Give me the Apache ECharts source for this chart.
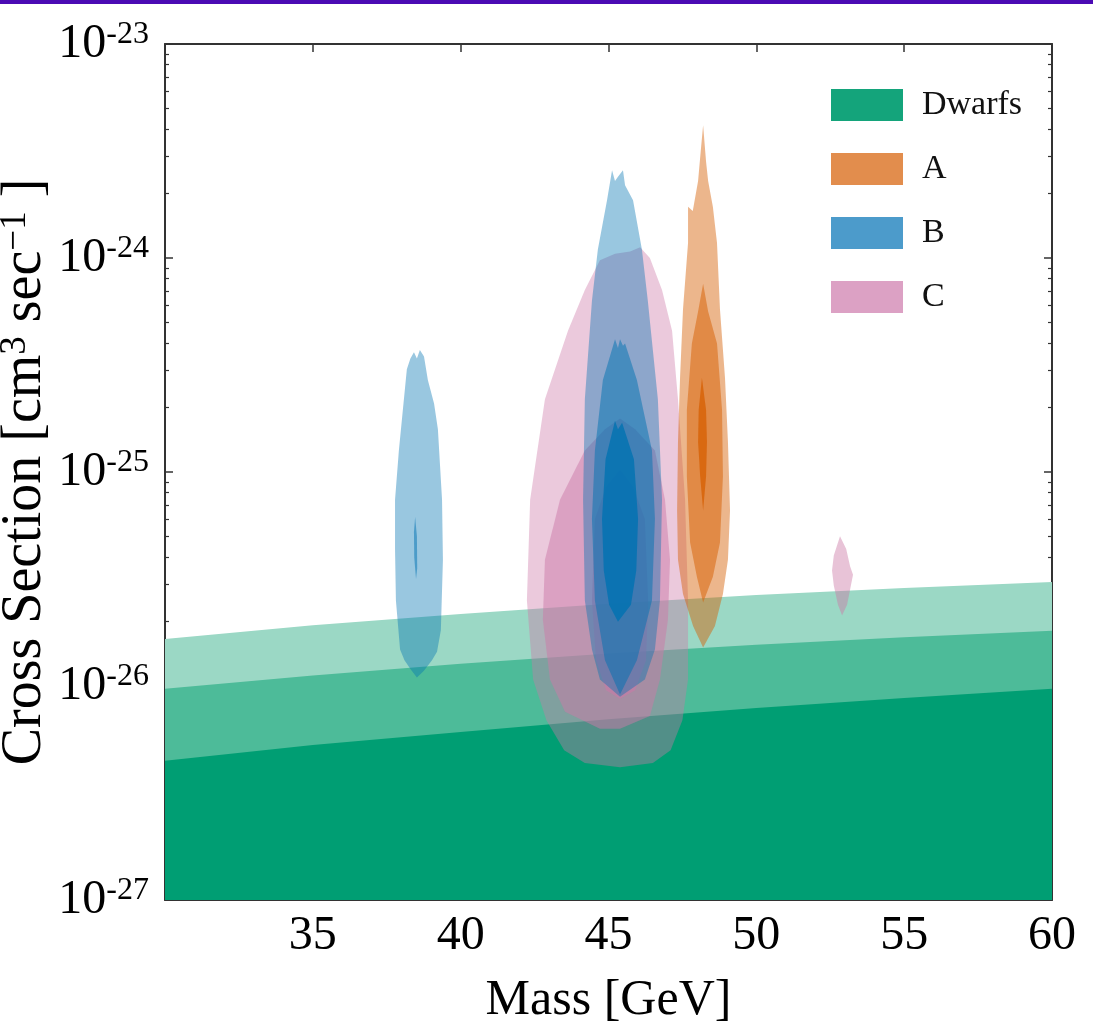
<!DOCTYPE html>
<html>
<head>
<meta charset="utf-8">
<script src="https://cdn.jsdelivr.net/npm/echarts@6.0.0/dist/echarts.min.js"></script>
<style>
  html, body { margin: 0; padding: 0; background: #fff; }
  #main { width: 1093px; height: 1027px; }
</style>
</head>
<body>
<div id="main"></div>
<script>
// axis ticks
var massTicks = [30, 35, 40, 45, 50, 55, 60];
var csDecades = [-27, -26, -25, -24, -23];   // log10 of cm^3 s^-1

// dwarf limits (cm^3 s^-1) at each mass
var dwarfMass  = [30, 35, 40, 45, 50, 55, 60];
var dwarfInner = [4.47e-27, 5.3e-27, 6.1e-27, 7.0e-27, 7.9e-27, 8.8e-27, 9.7e-27];
var dwarfMid   = [9.7e-27, 1.12e-26, 1.27e-26, 1.42e-26, 1.56e-26, 1.69e-26, 1.81e-26];
var dwarfOuter = [1.66e-26, 1.92e-26, 2.17e-26, 2.42e-26, 2.66e-26, 2.87e-26, 3.06e-26];

// contour outlines: [mass GeV, log10 cross section]
var aOuter = [[48.20,-23.38],[48.30,-23.55],[48.37,-23.64],[48.53,-23.76],[48.67,-23.93],[48.77,-24.24],[48.94,-24.56],[49.04,-24.86],[49.11,-25.18],[49.04,-25.41],[48.87,-25.57],[48.60,-25.72],[48.20,-25.82],[47.86,-25.72],[47.52,-25.57],[47.35,-25.41],[47.32,-25.18],[47.35,-24.86],[47.42,-24.56],[47.52,-24.24],[47.69,-23.93],[47.69,-23.76],[47.85,-23.78],[48.03,-23.64],[48.12,-23.50]];
var aMid = [[48.20,-24.12],[48.37,-24.25],[48.67,-24.40],[48.84,-24.71],[48.87,-25.02],[48.77,-25.33],[48.53,-25.49],[48.20,-25.61],[47.99,-25.49],[47.76,-25.33],[47.65,-25.02],[47.65,-24.71],[47.82,-24.40],[48.03,-24.25]];
var aCore = [[48.16,-24.56],[48.30,-24.71],[48.33,-24.86],[48.30,-25.02],[48.20,-25.18],[48.10,-25.02],[48.03,-24.86],[48.05,-24.71]];

var bSideOuter = [[38.42,-24.44],[38.52,-24.47],[38.62,-24.43],[38.76,-24.46],[38.89,-24.57],[39.10,-24.68],[39.23,-24.80],[39.37,-25.13],[39.40,-25.41],[39.33,-25.74],[39.20,-25.84],[39.03,-25.88],[38.75,-25.93],[38.52,-25.96],[38.30,-25.92],[38.10,-25.88],[37.95,-25.83],[37.81,-25.60],[37.78,-25.36],[37.78,-25.13],[37.91,-24.90],[38.08,-24.66],[38.18,-24.52],[38.30,-24.47]];
var bSideCore = [[38.46,-25.21],[38.52,-25.30],[38.53,-25.45],[38.49,-25.50],[38.43,-25.40],[38.42,-25.28]];
var bMain1 = [[45.12,-23.59],[45.22,-23.64],[45.32,-23.62],[45.49,-23.59],[45.56,-23.66],[45.83,-23.73],[46.13,-23.96],[46.33,-24.20],[46.67,-24.66],[46.81,-25.13],[46.74,-25.60],[46.57,-25.83],[46.23,-25.97],[45.39,-26.05],[44.71,-25.97],[44.44,-25.83],[44.20,-25.60],[44.14,-25.13],[44.20,-24.66],[44.44,-24.20],[44.64,-23.96],[44.95,-23.73]];
var bMain2 = [[45.22,-24.38],[45.32,-24.42],[45.39,-24.38],[45.49,-24.41],[45.56,-24.40],[45.96,-24.57],[46.47,-24.90],[46.57,-25.22],[46.47,-25.60],[45.96,-25.88],[45.39,-26.04],[44.88,-25.88],[44.54,-25.60],[44.44,-25.22],[44.54,-24.90],[44.81,-24.57]];
var bMain3 = [[45.22,-24.76],[45.32,-24.80],[45.46,-24.77],[45.86,-24.94],[46.00,-25.22],[45.94,-25.46],[45.76,-25.62],[45.32,-25.70],[45.02,-25.62],[44.84,-25.46],[44.78,-25.22],[44.90,-24.94]];

var cMain1 = [[45.73,-23.97],[46.07,-23.95],[46.40,-24.00],[46.81,-24.15],[47.15,-24.34],[47.35,-24.66],[47.59,-25.13],[47.69,-25.60],[47.69,-25.97],[47.50,-26.16],[47.10,-26.30],[46.50,-26.36],[45.39,-26.38],[44.20,-26.36],[43.50,-26.30],[42.90,-26.16],[42.45,-25.97],[42.24,-25.60],[42.35,-25.13],[42.85,-24.66],[43.63,-24.34],[44.20,-24.15],[44.71,-24.01],[45.22,-23.98]];
var cMain2 = [[45.39,-24.75],[45.90,-24.80],[46.57,-24.90],[46.91,-25.13],[47.08,-25.41],[47.01,-25.69],[46.74,-25.97],[46.40,-26.14],[45.39,-26.20],[44.71,-26.20],[43.53,-26.12],[43.02,-25.97],[42.78,-25.69],[42.85,-25.41],[43.36,-25.13],[44.20,-24.90],[44.88,-24.80]];
var cMain3 = [[45.39,-24.99],[45.83,-25.07],[46.23,-25.22],[46.34,-25.60],[46.27,-25.88],[45.90,-26.02],[45.39,-26.06],[44.92,-26.02],[44.58,-25.88],[44.44,-25.60],[44.54,-25.22],[44.92,-25.07]];
var cBlob = [[52.83,-25.30],[53.04,-25.36],[53.17,-25.44],[53.27,-25.48],[53.17,-25.55],[53.07,-25.62],[52.90,-25.67],[52.76,-25.62],[52.62,-25.53],[52.56,-25.46],[52.62,-25.39]];

var serif = 'Liberation Serif';
var frame = '#333';
var yMin = csDecades[0], yMax = csDecades[csDecades.length - 1];

// polygon drawn through the axes (y in log10 units)
function polySeries(name, data, fill) {
    return {
        type: 'custom',
        name: name,
        coordinateSystem: 'cartesian2d',
        xAxisIndex: 0,
        yAxisIndex: 0,
        silent: true,
        clip: true,
        data: data,
        renderItem: function (params, api) {
            if (params.dataIndex !== 0) return null;
            var pts = data.map(function (d) { return api.coord(d); });
            return { type: 'polygon', shape: { points: pts }, style: { fill: fill } };
        }
    };
}
function band(limits, fill) {
    var d = [[dwarfMass[0], yMin]];
    for (var i = 0; i < dwarfMass.length; i++) d.push([dwarfMass[i], Math.log10(limits[i])]);
    d.push([dwarfMass[dwarfMass.length - 1], yMin]);
    return polySeries('Dwarfs', d, fill);
}

// minor tick positions of the log scale
var minorVals = [];
for (var k = yMin; k < yMax; k++) {
    for (var j = 2; j <= 9; j++) minorVals.push(k + Math.log10(j));
}

var B = 'rgba(0,114,178,', C = 'rgba(204,121,167,', A = 'rgba(213,94,0,';

var series = [
    band(dwarfOuter, '#9bd8c5'),
    band(dwarfMid, '#4dbb99'),
    band(dwarfInner, '#009e73'),
    polySeries('C', cMain1, C + '0.4)'),
    polySeries('C', cMain2, C + '0.5)'),
    polySeries('C', cMain3, C + '0.55)'),
    polySeries('C', cBlob, C + '0.45)'),
    polySeries('B', bSideOuter, B + '0.4)'),
    polySeries('B', bSideCore, B + '0.5)'),
    polySeries('B', bMain1, B + '0.4)'),
    polySeries('B', bMain2, B + '0.5)'),
    polySeries('B', bMain3, B + '0.8)'),
    polySeries('A', aOuter, A + '0.45)'),
    polySeries('A', aMid, A + '0.5)'),
    polySeries('A', aCore, A + '0.75)')
];

var supRich = {
    b: { fontFamily: serif, fontSize: 48, color: '#000', lineHeight: 50 },
    s: { fontFamily: serif, fontSize: 32, color: '#000', lineHeight: 32, verticalAlign: 'top' },
    n: { fontFamily: serif, fontSize: 56, color: '#000', lineHeight: 56 },
    t: { fontFamily: serif, fontSize: 37, color: '#000', lineHeight: 37, verticalAlign: 'top' }
};

function yAxisBase(pos, opts) {
    var ax = {
        type: 'value',
        position: pos,
        min: yMin,
        max: yMax,
        interval: 1,
        axisLine: { show: true, onZero: false, lineStyle: { color: frame, width: 2 } },
        axisTick: { show: true, inside: true, length: 8, lineStyle: { color: frame, width: 1.5 } },
        axisLabel: { show: false },
        splitLine: { show: false }
    };
    for (var key in opts) ax[key] = opts[key];
    return ax;
}

var myChart = echarts.init(document.getElementById('main'), null, { renderer: 'canvas' });

var option = {
    backgroundColor: '#fff',
    animation: false,
    graphic: [{
        type: 'rect', left: 0, top: 0, z: 100,
        shape: { width: 1093, height: 4 },
        style: { fill: '#4b0ab4' }
    }],
    grid: { left: 165, right: 41, top: 44, bottom: 127, containLabel: false, outerBoundsMode: 'none' },
    legend: {
        left: 826, top: 83, orient: 'vertical',
        itemWidth: 72, itemHeight: 32, itemGap: 30,
        icon: 'rect', selectedMode: false,
        textStyle: { fontFamily: serif, fontSize: 34, color: '#111', lineHeight: 32, padding: [0, 0, 0, 14] },
        data: [
            { name: 'Dwarfs', itemStyle: { color: '#14a47b' } },
            { name: 'A', itemStyle: { color: '#e28d4d' } },
            { name: 'B', itemStyle: { color: '#4c9bcb' } },
            { name: 'C', itemStyle: { color: '#dca1c4' } }
        ]
    },
    xAxis: [{
        type: 'value',
        position: 'bottom',
        min: massTicks[0], max: massTicks[massTicks.length - 1], interval: 5,
        name: 'Mass [GeV]',
        nameLocation: 'middle',
        nameGap: 76,
        nameMoveOverlap: false,
        nameTextStyle: { fontFamily: serif, fontSize: 50, color: '#000' },
        axisLine: { show: true, onZero: false, lineStyle: { color: frame, width: 2 } },
        axisTick: { show: true, inside: true, length: 8, lineStyle: { color: frame, width: 1.5 } },
        axisLabel: {
            fontFamily: serif, fontSize: 48, color: '#000', margin: 12,
            formatter: function (v) { return v === massTicks[0] ? '' : String(v); }
        },
        splitLine: { show: false }
    }, {
        type: 'value',
        position: 'top',
        min: massTicks[0], max: massTicks[massTicks.length - 1], interval: 5,
        axisLine: { show: true, onZero: false, lineStyle: { color: frame, width: 2 } },
        axisTick: { show: true, inside: true, length: 8, lineStyle: { color: frame, width: 1.5 } },
        axisLabel: { show: false },
        splitLine: { show: false }
    }],
    yAxis: [
        yAxisBase('left', {
            name: '{n|Cross Section [cm}{t|3}{n| sec}{t|\u22121}{n| ]}',
            nameLocation: 'middle',
            nameGap: 112,
            nameMoveOverlap: false,
            nameTextStyle: { rich: supRich },
            axisLabel: {
                show: true, margin: 16,
                formatter: function (v) { return '{b|10}{s|' + Math.round(v) + '}'; },
                rich: supRich
            }
        }),
        yAxisBase('right', {}),
        yAxisBase('left', {
            axisLine: { show: false },
            axisTick: { show: true, inside: true, length: 4, customValues: minorVals, lineStyle: { color: frame, width: 1.2 } }
        }),
        yAxisBase('right', {
            axisLine: { show: false },
            axisTick: { show: true, inside: true, length: 4, customValues: minorVals, lineStyle: { color: frame, width: 1.2 } }
        })
    ],
    series: series
};

myChart.setOption(option);
</script>
</body>
</html>
